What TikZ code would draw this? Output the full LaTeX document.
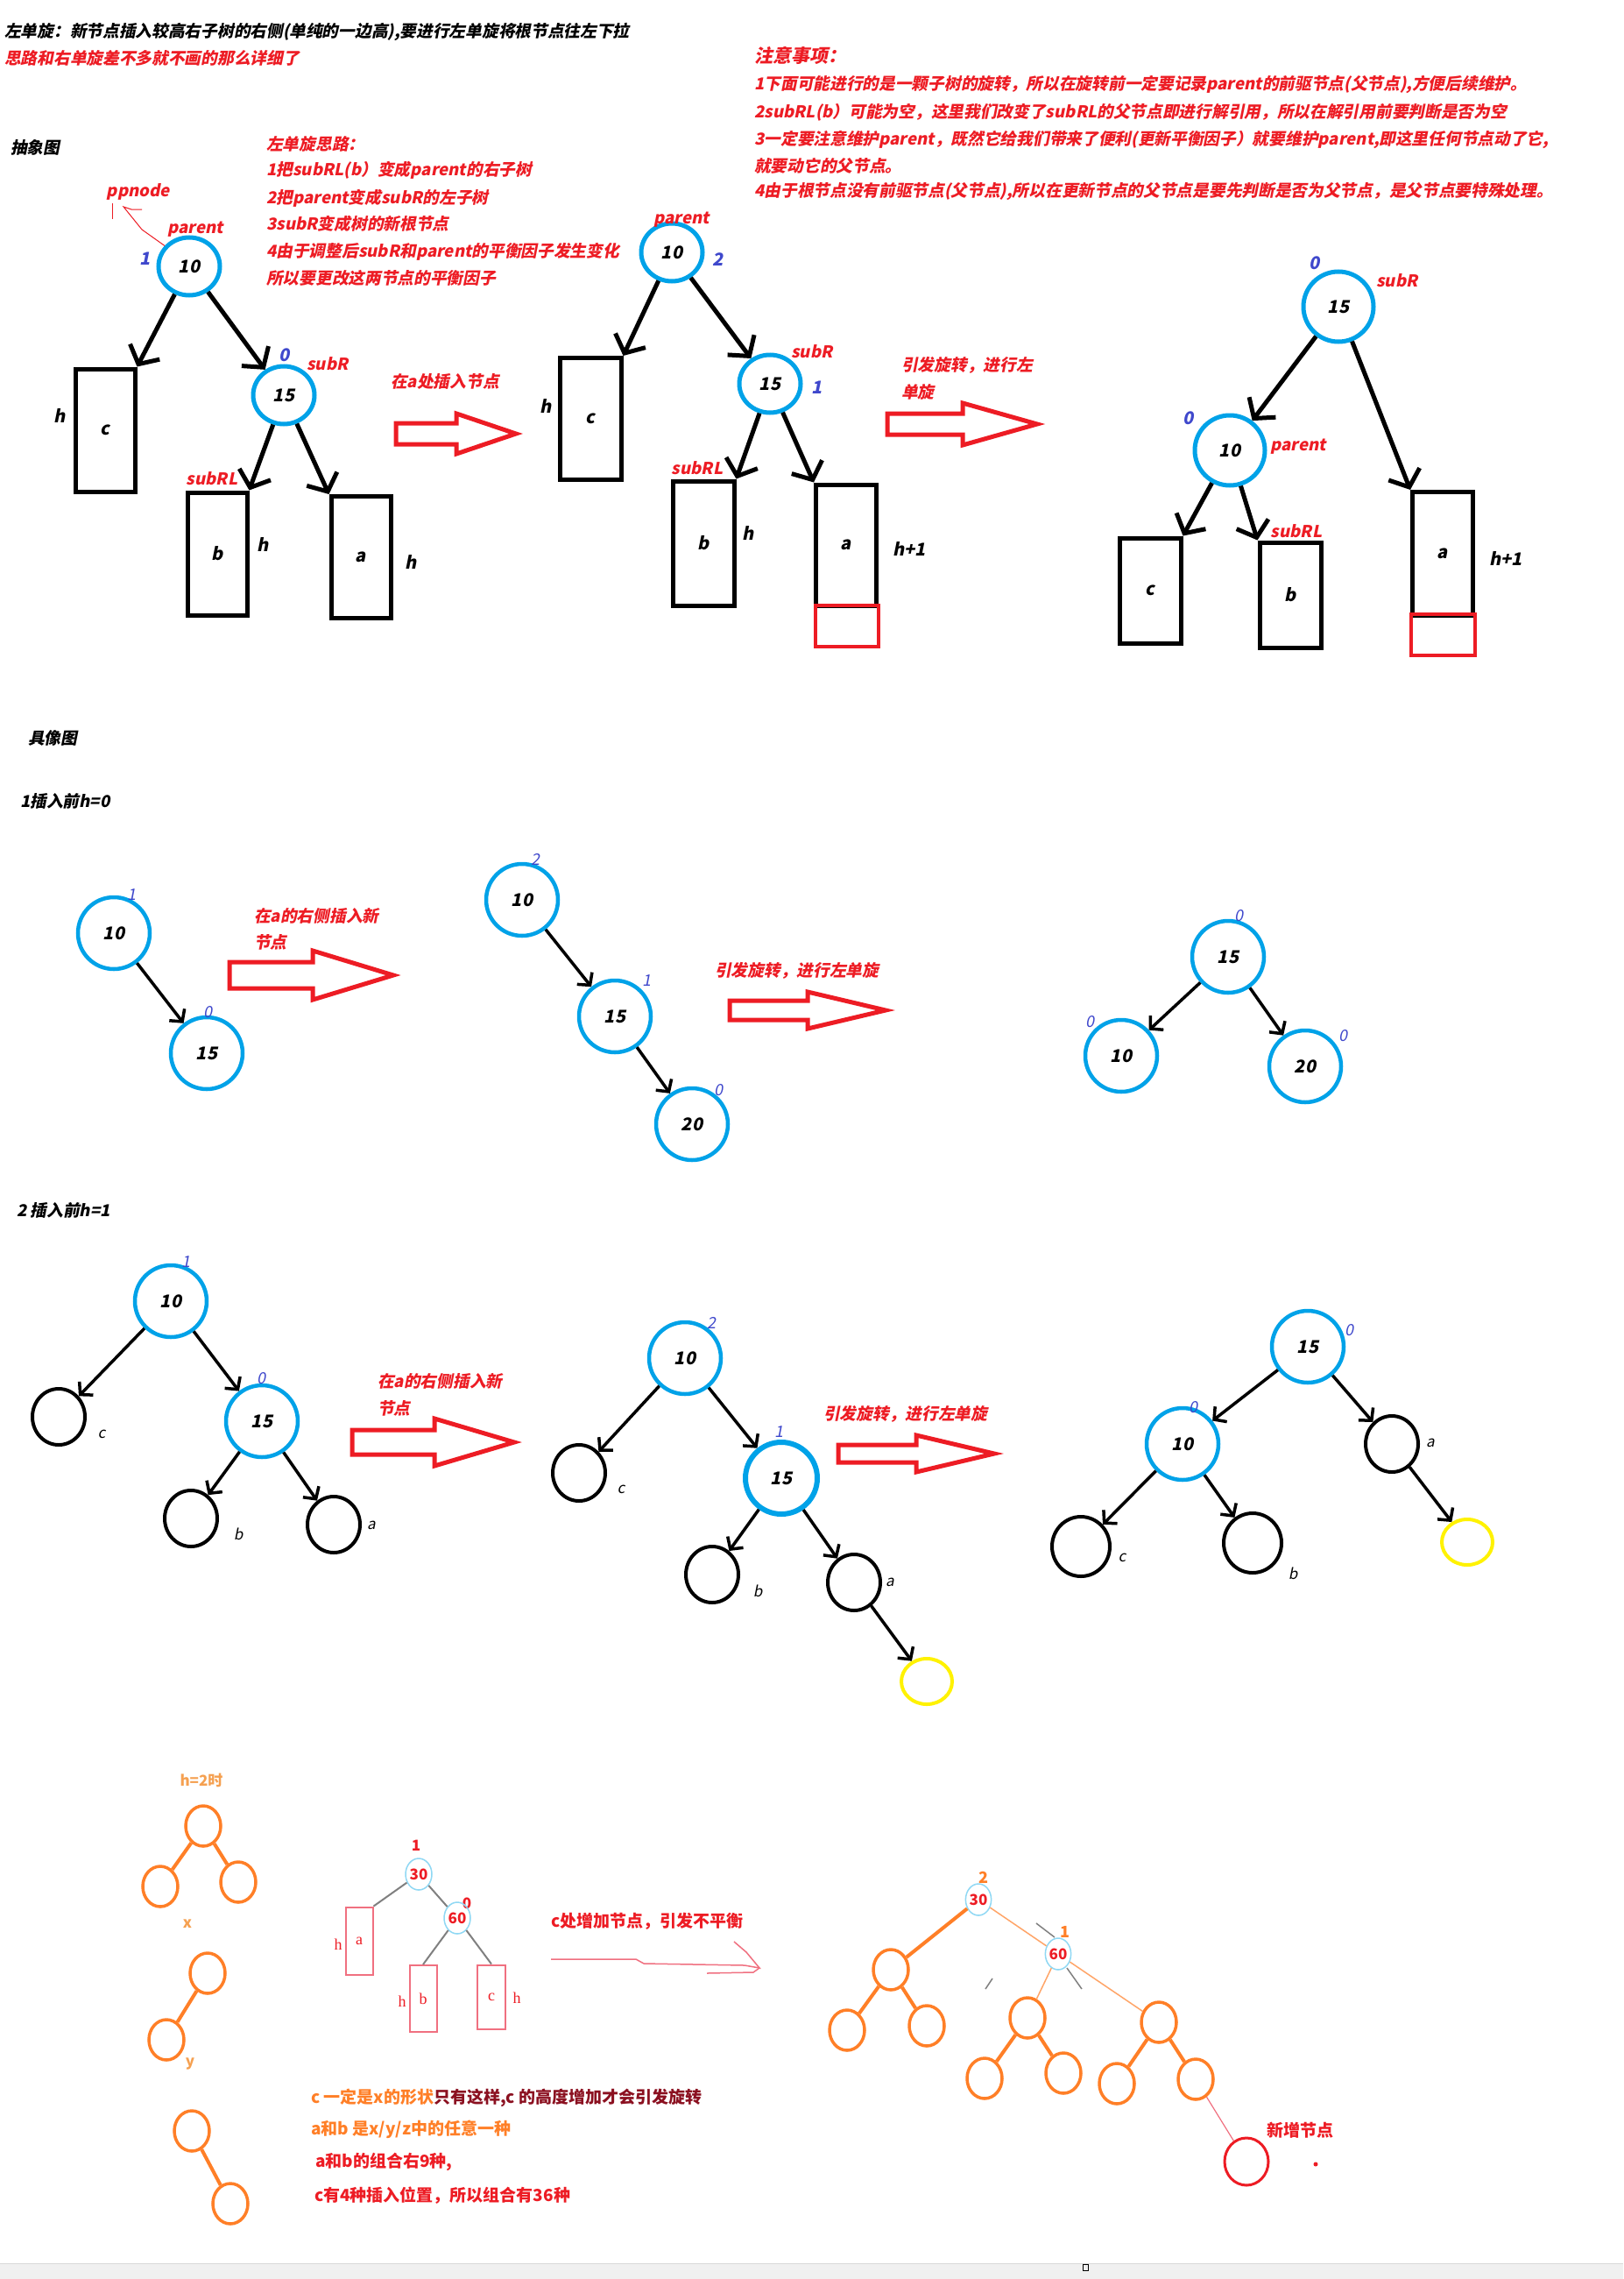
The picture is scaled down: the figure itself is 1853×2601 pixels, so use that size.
\documentclass[tikz,border=0pt]{standalone}
\usepackage{fontspec}
\setmainfont{Noto Sans CJK SC}[FakeSlant=0.2]
\newfontfamily\upf{Noto Sans CJK SC}
\newfontfamily\serifx{Liberation Serif}
\usetikzlibrary{arrows.meta,shapes.geometric}
\definecolor{pblue}{HTML}{00A2E8}
\definecolor{pred}{HTML}{ED1C24}
\definecolor{pind}{HTML}{3F48CC}
\definecolor{pyel}{HTML}{FFF200}
\definecolor{porg}{HTML}{FF7F27}
\definecolor{lorg}{HTML}{F5A050}
\definecolor{maroon}{HTML}{8B1020}
\definecolor{lblue}{HTML}{8FD8F4}
\definecolor{pinkred}{HTML}{F07080}
\newcommand{\hollowarrow}[6]{\draw[pred,line width=5pt,line join=miter] (#1,#4-#5) -- (#2,#4-#5) -- (#2,#4-#6) -- (#3,#4) -- (#2,#4+#6) -- (#2,#4+#5) -- (#1,#4+#5) -- cycle;}
\begin{document}
\begin{tikzpicture}[x=1pt,y=-1pt,
  hdr/.style={font=\fontsize{18.7}{19}\selectfont\bfseries, inner sep=0pt},
  rt/.style={hdr,text=pred},
  kt/.style={hdr,text=black},
  bft/.style={font=\fontsize{20}{20}\selectfont\bfseries, text=pind, inner sep=0pt},
  bfs/.style={font=\fontsize{18}{18}\selectfont, text=pind, inner sep=0pt},
  lt/.style={font=\fontsize{20}{20}\selectfont\bfseries, inner sep=0pt},
  st/.style={font=\fontsize{17}{17}\selectfont, inner sep=0pt},
  bc/.style={ellipse, draw=pblue, line width=5pt, minimum width=70pt, minimum height=66pt, inner sep=0pt, font=\fontsize{20}{20}\selectfont\bfseries},
  bc3/.style={bc, minimum width=80pt, minimum height=80pt},
  bx/.style={rectangle, draw, line width=5pt, inner sep=0pt, font=\fontsize{20}{20}\selectfont\bfseries},
  rbx/.style={rectangle, draw=pred, line width=4pt, inner sep=0pt},
  ed/.style={line width=5pt, -{Straight Barb[length=16pt,width=38pt]}},
  cc/.style={ellipse, draw=pblue, line width=4.5pt, minimum width=82pt, minimum height=82pt, inner sep=0pt, font=\fontsize{20}{20}\selectfont\bfseries},
  kc/.style={ellipse, draw, line width=4pt, minimum width=60pt, minimum height=64pt, inner sep=0pt},
  yc/.style={ellipse, draw=pyel, line width=4pt, minimum width=58pt, minimum height=52pt, inner sep=0pt},
  ce/.style={line width=3.5pt, -{Straight Barb[length=10pt,width=22pt]}},
  oc/.style={ellipse, draw=porg, line width=3.5pt, minimum width=40pt, minimum height=46pt, inner sep=0pt},
  oe/.style={draw=porg, line width=4pt},
  ote/.style={draw=porg!70, line width=1.5pt},
  ge/.style={draw=gray, line width=2pt},
  lbc/.style={ellipse, draw=lblue, line width=1.5pt, minimum width=30pt, minimum height=36pt, inner sep=0pt, text=pred, font=\upf\fontsize{17}{17}\selectfont\bfseries},
  bt/.style={font=\upf\fontsize{19}{19}\selectfont\bfseries, inner sep=0pt},
  ot/.style={font=\upf\fontsize{17}{17}\selectfont\bfseries, text=lorg, inner sep=0pt},
  sbx/.style={rectangle, draw=pinkred, line width=2pt, inner sep=0pt, text=pred, font=\serifx\fontsize{18}{18}\selectfont},
  sl/.style={text=pred, font=\serifx\fontsize{18}{18}\selectfont, inner sep=0pt}
]
\fill[white] (0,0) rectangle (1853,2601);
\useasboundingbox (0,0) rectangle (1853,2601);

% ---------- header ----------
\node[kt,anchor=west] (title) at (5,36) {左单旋：新节点插入较高右子树的右侧(单纯的一边高),要进行左单旋将根节点往左下拉};
\node[rt,anchor=west] (subt) at (5,66) {思路和右单旋差不多就不画的那么详细了};
\node[kt,anchor=west] (abs) at (12,168) {抽象图};
\node[rt,anchor=west] (s0) at (304,164) {左单旋思路：};
\node[rt,anchor=west] (s1t) at (304,194) {1把subRL(b）变成parent的右子树};
\node[rt,anchor=west] (s2t) at (304,226) {2把parent变成subR的左子树};
\node[rt,anchor=west] (s3t) at (304,255) {3subR变成树的新根节点};
\node[rt,anchor=west] (s4t) at (304,287) {4由于调整后subR和parent的平衡因子发生变化};
\node[rt,anchor=west] (s5t) at (304,317) {所以要更改这两节点的平衡因子};
\node[rt,anchor=west,font=\fontsize{21}{21}\selectfont\bfseries] (n0) at (861,63) {注意事项：};
\node[rt,anchor=west] (n1) at (861,96) {1下面可能进行的是一颗子树的旋转，所以在旋转前一定要记录parent的前驱节点(父节点),方便后续维护。};
\node[rt,anchor=west] (n2) at (861,128) {2subRL(b）可能为空，这里我们改变了subRL的父节点即进行解引用，所以在解引用前要判断是否为空};
\node[rt,anchor=west] (n3) at (861,159) {3一定要注意维护parent，既然它给我们带来了便利(更新平衡因子）就要维护parent,即这里任何节点动了它,};
\node[rt,anchor=west] (n4) at (861,189) {就要动它的父节点。};
\node[rt,anchor=west] (n5) at (861,219) {4由于根节点没有前驱节点(父节点),所以在更新节点的父节点是要先判断是否为父节点，是父节点要特殊处理。};

% ---------- abstract tree 1 ----------
\node[bc] (p1) at (216,304) {10};
\node[rt] (p1l) at (223,262) {parent};
\node[bft] (p1b) at (166,295) {1};
\node[rt] (ppn) at (158,219) {ppnode};
\coordinate (pp) at (141,236);
\draw[pred, line width=1pt] (p1.140) -- (162,262) -- (pp) -- (150,239) -- (162,239);
\draw[pred, line width=1pt] (128,232) -- (128,250);
\node[bx,minimum width=68pt,minimum height=140pt] (c1) at (120,491) {c};
\node[lt] (c1h) at (68,475) {h};
\node[bc] (s1) at (324,451) {15};
\node[bft] (s1b) at (325,405) {0};
\node[rt] (s1l) at (374,415) {subR};
\node[rt] (b1l) at (242,546) {subRL};
\node[bx,minimum width=68pt,minimum height=140pt] (b1) at (248,632) {b};
\node[lt] (b1h) at (300,622) {h};
\node[bx,minimum width=68pt,minimum height=139pt] (a1) at (412,636) {a};
\node[lt] (a1h) at (469,642) {h};
\draw[ed] (p1) -- (c1.north east);
\draw[ed] (p1) -- (s1);
\draw[ed] (s1) -- (b1.north east);
\draw[ed] (s1) -- (a1.north west);
\hollowarrow{452}{521}{589}{495}{12}{23}
\node[rt] (ins1) at (508,435) {在a处插入节点};

% ---------- abstract tree 2 ----------
\node[bc] (p2) at (767,288) {10};
\node[rt] (p2l) at (778,251) {parent};
\node[bft] (p2b) at (820,296) {2};
\node[bx,minimum width=70pt,minimum height=139pt] (c2) at (674,478) {c};
\node[lt] (c2h) at (623,464) {h};
\node[bc] (s2) at (879,438) {15};
\node[rt] (s2l) at (927,401) {subR};
\node[bft] (s2b) at (933,442) {1};
\node[rt] (b2l) at (796,534) {subRL};
\node[bx,minimum width=70pt,minimum height=142pt] (b2) at (803,620) {b};
\node[lt] (b2h) at (854,609) {h};
\node[bx,minimum width=69pt,minimum height=138pt] (a2) at (966,622) {a};
\node[lt] (a2h) at (1038,627) {h+1};
\node[rbx,minimum width=72pt,minimum height=47pt] (r2) at (967,714) {};
\draw[ed] (p2) -- (c2.north east);
\draw[ed] (p2) -- (s2);
\draw[ed] (s2) -- (b2.north east);
\draw[ed] (s2) -- (a2.north west);
\hollowarrow{1013}{1099}{1184}{484}{12}{24}
\node[rt,anchor=west] (rot1) at (1029,417) {引发旋转，进行左};
\node[rt,anchor=west] (rot1b) at (1029,447) {单旋};

% ---------- abstract tree 3 ----------
\node[bc3] (s3) at (1528,350) {15};
\node[bft] (s3b) at (1501,300) {0};
\node[rt] (s3l) at (1595,320) {subR};
\node[bc3] (p3) at (1404,514) {10};
\node[bft] (p3b) at (1357,477) {0};
\node[rt] (p3l) at (1482,510) {parent};
\node[bx,minimum width=70pt,minimum height=120pt] (c3) at (1313,674) {c};
\node[bx,minimum width=70pt,minimum height=120pt] (b3) at (1473,679) {b};
\node[rt] (b3l) at (1480,606) {subRL};
\node[bx,minimum width=69pt,minimum height=141pt] (a3) at (1647,632) {a};
\node[lt] (a3h) at (1719,638) {h+1};
\node[rbx,minimum width=73pt,minimum height=47pt] (r3) at (1647,724) {};
\draw[ed] (s3) -- (p3);
\draw[ed] (s3) -- (a3.north west);
\draw[ed] (p3) -- (c3.north east);
\draw[ed] (p3) -- (b3.north west);

% ---------- concrete, section 1 ----------
\node[kt,anchor=west] (conc) at (32,842) {具像图};
\node[kt,anchor=west] (sec1) at (23,914) {1插入前h=0};
\node[cc] (nA1) at (130,1065) {10};
\node[bfs] (nA1b) at (150,1021) {1};
\node[cc] (nA2) at (236,1202) {15};
\node[bfs] (nA2b) at (237,1155) {0};
\draw[ce] (nA1) -- (nA2);
\hollowarrow{262}{357}{449}{1113}{15}{28}
\node[rt,anchor=west] (insA) at (290,1045) {在a的右侧插入新};
\node[rt,anchor=west] (insA2) at (290,1075) {节点};
\node[cc] (nB1) at (596,1027) {10};
\node[bfs] (nB1b) at (611,981) {2};
\node[cc] (nB2) at (702,1160) {15};
\node[bfs] (nB2b) at (738,1119) {1};
\node[cc] (nB3) at (790,1283) {20};
\node[bfs] (nB3b) at (820,1244) {0};
\draw[ce] (nB1) -- (nB2);
\draw[ce] (nB2) -- (nB3);
\hollowarrow{833}{922}{1011}{1153}{11}{21}
\node[rt,anchor=west] (rotB) at (816,1108) {引发旋转，进行左单旋};
\node[cc] (nC1) at (1402,1092) {15};
\node[bfs] (nC1b) at (1414,1045) {0};
\node[cc] (nC2) at (1280,1205) {10};
\node[bfs] (nC2b) at (1244,1166) {0};
\node[cc] (nC3) at (1490,1217) {20};
\node[bfs] (nC3b) at (1533,1182) {0};
\draw[ce] (nC1) -- (nC2);
\draw[ce] (nC1) -- (nC3);

% ---------- concrete, section 2 ----------
\node[kt,anchor=west] (sec2) at (19,1381) {2 插入前h=1};
\node[cc] (nD1) at (195,1485) {10};
\node[bfs] (nD1b) at (212,1440) {1};
\node[kc] (cD) at (67,1617) {};
\node[st] (cDl) at (116,1637) {c};
\node[cc] (nD2) at (299,1622) {15};
\node[bfs] (nD2b) at (298,1573) {0};
\node[kc] (bD) at (218,1733) {};
\node[st] (bDl) at (272,1751) {b};
\node[kc] (aD) at (381,1740) {};
\node[st] (aDl) at (424,1741) {a};
\draw[ce] (nD1) -- (cD);
\draw[ce] (nD1) -- (nD2);
\draw[ce] (nD2) -- (bD);
\draw[ce] (nD2) -- (aD);
\hollowarrow{402}{496}{587}{1646}{14}{27}
\node[rt,anchor=west] (insD) at (431,1576) {在a的右侧插入新};
\node[rt,anchor=west] (insD2) at (431,1607) {节点};
\node[cc] (nE1) at (782,1550) {10};
\node[bfs] (nE1b) at (812,1510) {2};
\node[kc] (cE) at (661,1681) {};
\node[st] (cEl) at (709,1700) {c};
\node[cc,line width=6pt] (nE2) at (892,1687) {15};
\node[bfs] (nE2b) at (889,1634) {1};
\node[kc] (bE) at (813,1797) {};
\node[st] (bEl) at (865,1816) {b};
\node[kc] (aE) at (975,1806) {};
\node[st] (aEl) at (1016,1806) {a};
\node[yc] (yE) at (1058,1919) {};
\draw[ce] (nE1) -- (cE);
\draw[ce] (nE1) -- (nE2);
\draw[ce] (nE2) -- (bE);
\draw[ce] (nE2) -- (aE);
\draw[ce] (aE) -- (yE);
\hollowarrow{957}{1046}{1135}{1659}{10}{21}
\node[rt,anchor=west] (rotE) at (940,1614) {引发旋转，进行左单旋};
\node[cc] (nF1) at (1493,1537) {15};
\node[bfs] (nF1b) at (1540,1518) {0};
\node[cc] (nF2) at (1350,1648) {10};
\node[bfs] (nF2b) at (1362,1606) {0};
\node[kc] (aF) at (1589,1648) {};
\node[st] (aFl) at (1633,1647) {a};
\node[kc,minimum width=66pt,minimum height=68pt] (cF) at (1234,1765) {};
\node[st] (cFl) at (1281,1778) {c};
\node[kc,minimum width=66pt,minimum height=68pt] (bF) at (1430,1761) {};
\node[st] (bFl) at (1476,1796) {b};
\node[yc] (yF) at (1675,1760) {};
\draw[ce] (nF1) -- (nF2);
\draw[ce] (nF1) -- (aF);
\draw[ce] (nF2) -- (cF);
\draw[ce] (nF2) -- (bF);
\draw[ce] (aF) -- (yF);

% ---------- bottom section ----------
\node[ot] (h2) at (230,2032) {h=2时};
\node[oc] (xT) at (232,2084) {};
\node[oc] (xL) at (183,2153) {};
\node[oc] (xR) at (272,2148) {};
\draw[oe] (xT) -- (xL);
\draw[oe] (xT) -- (xR);
\node[ot] (xl) at (214,2196) {x};
\node[oc] (yT) at (237,2252) {};
\node[oc] (yB) at (190,2328) {};
\draw[oe] (yT) -- (yB);
\node[ot] (yl) at (217,2355) {y};
\node[oc] (zT) at (219,2432) {};
\node[oc] (zB) at (263,2515) {};
\draw[oe] (zT) -- (zB);

\node[text=pred,font=\upf\fontsize{17}{17}\selectfont\bfseries,inner sep=0pt] (q1) at (475,2106) {1};
\node[lbc] (t30) at (478,2139) {30};
\node[text=pred,font=\upf\fontsize{17}{17}\selectfont\bfseries,inner sep=0pt] (q0) at (533,2172) {0};
\node[lbc] (t60) at (522,2189) {60};
\node[sbx,minimum width=31pt,minimum height=77pt] (aB) at (410,2215) {a};
\node[sl] (aBh) at (386,2219) {h};
\node[sbx,minimum width=31pt,minimum height=76pt] (bB) at (483,2281) {b};
\node[sl] (bBh) at (459,2284) {h};
\node[sbx,minimum width=32pt,minimum height=73pt] (cB) at (561,2279) {c};
\node[sl] (cBh) at (590,2280) {h};
\draw[ge] (t30) -- (aB.north east);
\draw[ge] (t30) -- (t60);
\draw[ge] (t60) -- (bB.north);
\draw[ge] (t60) -- (cB.north);
\node[bt,text=pred,anchor=west] (cadd) at (629,2193) {c处增加节点，引发不平衡};
\draw[pinkred, line width=1.5pt] (629,2236) -- (726,2236) -- (735,2241) -- (850,2243) -- (867,2246) -- (852,2228) -- (838,2216);
\draw[pinkred, line width=1.5pt] (867,2246) -- (860,2251) -- (807,2252);

\node[bt,anchor=west] (L1) at (355,2394) {\textcolor{porg}{c 一定是x的形状}\textcolor{maroon}{只有这样,c 的高度增加才会引发旋转}};
\node[bt,anchor=west,text=porg] (L2) at (355,2430) {a和b 是x/y/z中的任意一种};
\node[bt,anchor=west,text=pred] (L3) at (360,2467) {a和b的组合右9种,};
\node[bt,anchor=west,text=pred] (L4) at (359,2506) {c有4种插入位置，所以组合有36种};

% right orange tree
\node[text=porg,font=\upf\fontsize{18}{18}\selectfont\bfseries,inner sep=0pt] (r2l) at (1123,2143) {2};
\node[lbc,minimum width=28pt] (u30) at (1117,2168) {30};
\node[text=porg,font=\upf\fontsize{18}{18}\selectfont\bfseries,inner sep=0pt] (r1l) at (1216,2205) {1};
\node[lbc,minimum width=28pt] (u60) at (1208,2230) {60};
\node[oc] (L1n) at (1017,2248) {};
\node[oc] (L2n) at (967,2317) {};
\node[oc] (L3n) at (1058,2312) {};
\node[oc] (M1n) at (1173,2303) {};
\node[oc] (M2n) at (1124,2372) {};
\node[oc] (M3n) at (1214,2366) {};
\node[oc] (R1n) at (1323,2308) {};
\node[oc] (R2n) at (1275,2378) {};
\node[oc] (R3n) at (1365,2373) {};
\node[ellipse, draw=pred, line width=3pt, minimum width=50pt, minimum height=54pt, inner sep=0pt] (Nn) at (1423,2467) {};
\draw[oe] (u30) -- (L1n);
\draw[oe] (L1n) -- (L2n);
\draw[oe] (L1n) -- (L3n);
\draw[oe] (M1n) -- (M2n);
\draw[oe] (M1n) -- (M3n);
\draw[oe] (R1n) -- (R2n);
\draw[oe] (R1n) -- (R3n);
\draw[ote] (u30) -- (u60);
\draw[ote] (u60) -- (M1n);
\draw[ote] (u60) -- (R1n);
\draw[pinkred, line width=1.2pt] (R3n) -- (Nn);
\draw[ge, line width=1.5pt] (1183,2195) -- (1204,2211);
\draw[ge, line width=1.5pt] (1133,2258) -- (1125,2270);
\draw[ge, line width=1.5pt] (1218,2246) -- (1235,2270);
\node[bt,text=pred,anchor=west] (newn) at (1446,2431) {新增节点};
\fill[pred] (1502,2470) circle (2.5pt);

% status bar
\fill[black!6] (0,2583) rectangle (1853,2601);
\draw[black!15, line width=1pt] (0,2583) -- (1853,2583);
\draw[black, line width=1pt] (1236,2584) rectangle (1242,2591);
\end{tikzpicture}
\end{document}
